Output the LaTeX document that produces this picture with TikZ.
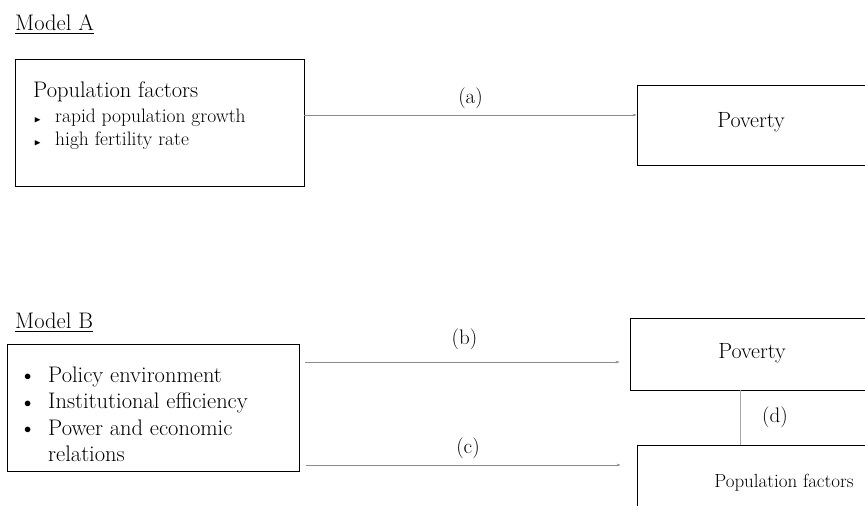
\documentclass[tikz,border=0pt]{standalone}
\usepackage{amssymb}
\usetikzlibrary{arrows.meta}
\newcommand{\setfs}[1]{\fontsize{#1}{#1}\selectfont}

\begin{document}
\begin{tikzpicture}[x=1pt,y=-1pt,
		box/.style={draw=black,line width=0.8pt,inner sep=0pt},
		txt/.style={anchor=base west,inner sep=0pt},
		lbl/.style={anchor=base,inner sep=0pt,font=\setfs{21}},
		arr/.style={-{Stealth[length=4pt,width=2.6pt]},draw=black!45,line width=0.6pt}]
	
	\useasboundingbox (0,0) rectangle (865,506);
	\clip (0,0) rectangle (865,506);
	
	% Model A
	\node[txt,font=\setfs{22.5}] (titleA) at (15,30) {\underline{Model A}};
	\node[box,minimum width=289pt,minimum height=127pt] (popA) at (159.5,122.5) {};
	\node[txt,font=\setfs{22.5}] (popAhead) at (33,97) {Population factors};
	\node[txt,font=\setfs{19.5}] (popAi) at (34,122) {\makebox[21pt][l]{\setfs{9}$\blacktriangleright$}rapid population growth};
	\node[txt,font=\setfs{19.5}] (popAii) at (34,145) {\makebox[21pt][l]{\setfs{9}$\blacktriangleright$}high fertility rate};
	\node[box,minimum width=270pt,minimum height=80pt] (povA) at (772,125) {};
	\node[anchor=base,inner sep=0pt,font=\setfs{22}] (povAtext) at (751,127) {Poverty};
	
	\draw[arr] (popA.east |- 0,115) -- (povA.west |- 0,115)
		node[lbl,pos=0.5,yshift=12pt] (la) {(a)};
	
	% Model B
	\node[txt,font=\setfs{22.5}] (titleB) at (15,328) {\underline{Model B}};
	\node[box,minimum width=292pt,minimum height=127pt] (inst) at (153,407.5) {};
	\foreach \i/\t in {0/Policy environment,1/Institutional efficiency,2/Power and economic}
		\node[txt,font=\setfs{22.5}] (inst\i) at (24,382+26.5*\i) {\makebox[24pt][l]{\setfs{15}\raisebox{1.5pt}{$\bullet$}}\t};
	\node[txt,font=\setfs{22.5}] (inst3) at (48,461.5) {relations};
	
	\node[box,minimum width=270pt,minimum height=72pt] (povB) at (765,354) {};
	\node[anchor=base,inner sep=0pt,font=\setfs{22}] (povBtext) at (752,358) {Poverty};
	\node[box,minimum width=300pt,minimum height=90pt] (popB) at (787,490) {};
	\node[anchor=base,inner sep=0pt,font=\setfs{19}] (popBtext) at (784,487) {Population factors};
	
	\draw[arr,shorten <=6pt,shorten >=10pt] (inst.east |- 0,362) -- (povB.west |- 0,362)
		node[lbl,pos=0.5,yshift=18pt] (lb) {(b)};
	\draw[arr,shorten <=7pt,shorten >=16pt] (inst.east |- 0,465) -- (popB.west |- 0,465)
		node[lbl,pos=0.5,yshift=12pt] (lc) {(c)};
	\draw[draw=black!35,line width=0.6pt] (povB.south -| 740,0) -- (popB.north -| 740,0)
		node[lbl,pos=0.6,xshift=35pt] (ld) {(d)};
\end{tikzpicture}
\end{document}
